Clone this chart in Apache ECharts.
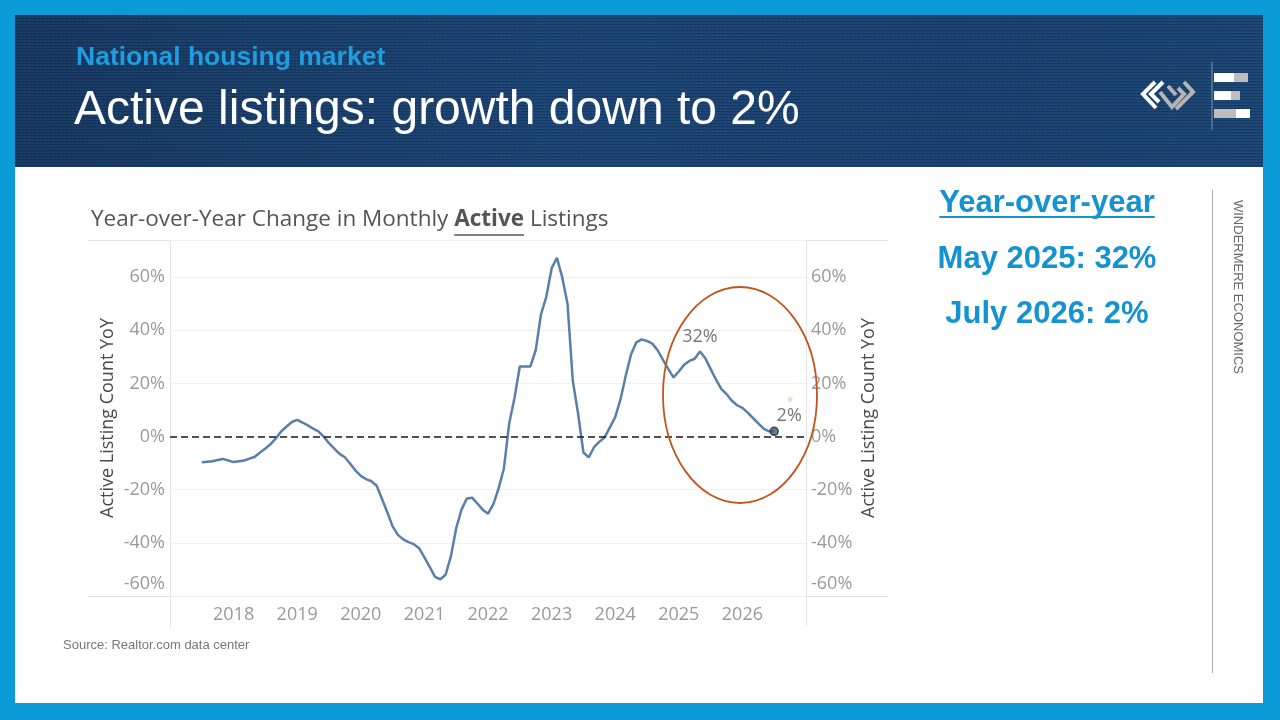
<!DOCTYPE html>
<html><head><meta charset="utf-8">
<script src="https://cdn.jsdelivr.net/npm/echarts@6/dist/echarts.min.js"></script>
<style>html,body{margin:0;padding:0;background:#0b9bd8}#c{width:1280px;height:720px}</style>
</head><body><div id="c"></div>
<script>
// ---- data ----
const startMonth = '2017-07';
const yoy = [
  -9.7, -9.5, -9.3, -8.8, -8.4, -9.0,            // 2017-07..12
  -9.6, -9.3, -9.0, -8.3, -7.6, -6.0, -4.5, -2.8, -0.6, 2.0, 3.8, 5.5,        // 2018
  6.3, 5.3, 4.2, 3.0, 2.0, 0.0, -2.5, -4.5, -6.5, -7.8, -10.2, -12.8,         // 2019
  -14.8, -16.0, -16.8, -18.5, -23.5, -28.5, -33.8, -37.0, -38.7, -39.7, -40.5, -42.0, // 2020
  -45.5, -49.0, -52.8, -53.7, -52.0, -45.0, -34.5, -27.5, -23.3, -23.0, -25.2, -27.5, // 2021
  -29.0, -25.5, -19.5, -12.0, 5.0, 14.5, 26.4, 26.4, 26.4, 32.5, 46.0, 52.6,  // 2022
  63.3, 67.3, 60.0, 50.0, 21.0, 8.6, -6.0, -7.8, -4.0, -2.0, -0.3, 3.5,       // 2023
  7.3, 14.0, 23.0, 31.0, 35.5, 36.6, 36.0, 35.0, 32.5, 29.0, 25.5, 22.3,      // 2024
  24.5, 27.0, 28.5, 29.3, 32.0, 29.5, 25.5, 21.5, 18.0, 16.0, 13.5, 11.8,     // 2025
  10.8, 9.0, 7.0, 5.0, 3.0, 2.0, 2.0                                          // 2026-01..07
];
const yearLabels = ['2018','2019','2020','2021','2022','2023','2024','2025','2026'];
const peakMonth = '2025-05', peakLabel = '32%';
const lastMonth = '2026-07', lastLabel = '2%';
const faintMonth = '2026-10', faintValue = 14;

// category months 2017-01 .. 2027-01
const months = [];
for (let y = 2017; y <= 2027; y++) {
  for (let m = 1; m <= 12; m++) {
    if (y === 2027 && m > 1) break;
    months.push(y + '-' + String(m).padStart(2, '0'));
  }
}
const startIdx = months.indexOf(startMonth);
const lineData = months.map((mo, i) => {
  const k = i - startIdx;
  return (k >= 0 && k < yoy.length) ? yoy[k] : null;
});
const valueAt = mo => lineData[months.indexOf(mo)];

const FONT = '"Open Sans", "Noto Sans", sans-serif';

// measure helper for underlines
const mctx = document.createElement('canvas').getContext('2d');
function tw(text, font) { mctx.font = font; return mctx.measureText(text).width; }

const titleA = 'Year-over-Year Change in Monthly ';
const titleB = 'Active';
const titleFontA = '22.5px "Open Sans"';
const titleFontB = 'bold 22.5px "Open Sans"';
const titleX = 91;
const ulStart = titleX + tw(titleA, titleFontA);
const ulEnd = ulStart + tw(titleB, titleFontB);

const yoyHead = 'Year-over-year';
const yoyHeadW = tw(yoyHead, 'bold 31px "Liberation Sans"');

// header texture pattern
const pc = document.createElement('canvas');
pc.width = 4; pc.height = 3;
const pctx = pc.getContext('2d');
pctx.fillStyle = 'rgba(0,0,0,0.18)'; pctx.fillRect(0, 0, 4, 1);
pctx.fillStyle = 'rgba(255,255,255,0.04)'; pctx.fillRect(0, 2, 2, 1);

const chart = echarts.init(document.getElementById('c'), null, {renderer: 'canvas'});

const labelRich = {lo: {fontSize: 18, color: '#9a9a9a', fontFamily: FONT, padding: [0, 0, 24, 0]}};
const yLabelFmt = v => v === -60 ? '{lo|-60%}' : v + '%';

chart.setOption({
  animation: false,
  backgroundColor: 'transparent',
  grid: {left: 170, right: 474, top: 240, bottom: 124, containLabel: false},
  xAxis: {
    type: 'category', data: months, boundaryGap: false,
    axisLine: {show: false}, axisTick: {show: false}, splitLine: {show: false},
    axisLabel: {
      interval: (i, v) => v.endsWith('-01') && yearLabels.includes(v.slice(0, 4)),
      formatter: v => v.slice(0, 4),
      fontSize: 18, color: '#9a9a9a', fontFamily: FONT, margin: 10
    }
  },
  yAxis: [
    {
      type: 'value', min: -60, max: 74, interval: 20, position: 'left',
      name: 'Active Listing Count YoY', nameLocation: 'middle', nameGap: 53, nameRotate: 90,
      nameTextStyle: {fontSize: 18, color: '#4a4a4a', fontFamily: FONT},
      axisLine: {show: false}, axisTick: {show: false},
      axisLabel: {formatter: yLabelFmt, rich: labelRich, showMaxLabel: false, fontSize: 18, color: '#9a9a9a', fontFamily: FONT, margin: 5},
      splitLine: {lineStyle: {color: '#f1f1f1', width: 1}}
    },
    {
      type: 'value', min: -60, max: 74, interval: 20, position: 'right',
      name: 'Active Listing Count YoY', nameLocation: 'middle', nameGap: 54, nameRotate: 90,
      nameTextStyle: {fontSize: 18, color: '#4a4a4a', fontFamily: FONT},
      axisLine: {show: false}, axisTick: {show: false},
      axisLabel: {formatter: yLabelFmt, rich: labelRich, showMaxLabel: false, fontSize: 18, color: '#9a9a9a', fontFamily: FONT, margin: 5},
      splitLine: {show: false}
    }
  ],
  series: [
    {
      type: 'line', data: lineData, symbol: 'none', connectNulls: false,
      lineStyle: {color: '#5a7fa8', width: 2.5}, z: 3,
      markLine: {
        silent: true, symbol: 'none', label: {show: false},
        lineStyle: {type: [7, 4], color: '#1a1a1a', width: 1.5},
        data: [{yAxis: 0}]
      }
    },
    {
      type: 'scatter', z: 5,
      data: [
        {value: [peakMonth, valueAt(peakMonth)], symbolSize: 0,
         label: {show: true, formatter: peakLabel, position: 'top', distance: 6}},
        {value: [lastMonth, valueAt(lastMonth)], symbol: 'circle', symbolSize: 8,
         itemStyle: {color: '#3d5d7e', borderColor: '#1b2a3a', borderWidth: 1.5},
         label: {show: true, formatter: lastLabel, position: 'top', distance: 2, offset: [15, 0]}}
      ],
      label: {color: '#555', fontSize: 18, fontFamily: FONT}
    },
    {
      type: 'scatter', z: 4, symbol: 'diamond', symbolSize: 6,
      itemStyle: {color: '#dedcb4'},
      data: [[faintMonth, faintValue]]
    }
  ],
  graphic: [
    // white content area
    {type: 'rect', z: -10, shape: {x: 15, y: 15, width: 1248, height: 688}, style: {fill: '#ffffff'}},
    // header
    {type: 'rect', z: -9, shape: {x: 15, y: 15, width: 1248, height: 152},
     style: {fill: new echarts.graphic.LinearGradient(0, 0, 1, 0, [
       {offset: 0, color: '#173a64'}, {offset: 0.45, color: '#1c4677'},
       {offset: 0.75, color: '#1a4272'}, {offset: 1, color: '#1b4675'}])}},
    {type: 'rect', z: -8, shape: {x: 15, y: 15, width: 1248, height: 152},
     style: {fill: {image: pc, repeat: 'repeat'}}},
    {type: 'text', z: 10, left: 76, top: 44,
     style: {text: 'National housing market', font: 'bold 26.5px "Liberation Sans", Arial', fill: '#1e9ddf'}},
    {type: 'text', z: 10, left: 74, top: 87,
     style: {text: 'Active listings: growth down to 2%', font: '48px "Liberation Sans", Arial', fill: '#ffffff'}},
    // logo
    {type: 'polyline', z: 10, shape: {points: [[1155, 82], [1143, 94], [1156, 108]]},
     style: {stroke: '#ffffff', lineWidth: 4, fill: null}},
    {type: 'polyline', z: 10, shape: {points: [[1163, 82], [1151, 94], [1159, 102]]},
     style: {stroke: '#ffffff', lineWidth: 4, fill: null}},
    {type: 'polyline', z: 10, shape: {points: [[1160, 92], [1172, 107], [1184, 94], [1178, 88]]},
     style: {stroke: '#b4b4b4', lineWidth: 4, fill: null}},
    {type: 'polyline', z: 10, shape: {points: [[1168, 86], [1176, 95]]},
     style: {stroke: '#b4b4b4', lineWidth: 4, fill: null}},
    {type: 'polyline', z: 10, shape: {points: [[1184, 82], [1193, 92], [1176, 109]]},
     style: {stroke: '#b4b4b4', lineWidth: 4, fill: null}},
    {type: 'line', z: 10, shape: {x1: 1212, y1: 62, x2: 1212, y2: 130}, style: {stroke: '#7d95b3', lineWidth: 1}},
    {type: 'rect', z: 10, shape: {x: 1214, y: 73, width: 20, height: 9}, style: {fill: '#ffffff'}},
    {type: 'rect', z: 10, shape: {x: 1234, y: 73, width: 14, height: 9}, style: {fill: '#bdbdbd'}},
    {type: 'rect', z: 10, shape: {x: 1214, y: 91, width: 17, height: 9}, style: {fill: '#ffffff'}},
    {type: 'rect', z: 10, shape: {x: 1231, y: 91, width: 9, height: 9}, style: {fill: '#bdbdbd'}},
    {type: 'rect', z: 10, shape: {x: 1214, y: 109, width: 22, height: 9}, style: {fill: '#bdbdbd'}},
    {type: 'rect', z: 10, shape: {x: 1236, y: 109, width: 14, height: 9}, style: {fill: '#ffffff'}},
    // chart frame lines
    {type: 'line', z: -5, shape: {x1: 88, y1: 240.5, x2: 888, y2: 240.5}, style: {stroke: '#e3e3e3', lineWidth: 1}},
    {type: 'line', z: -5, shape: {x1: 88, y1: 596.5, x2: 888, y2: 596.5}, style: {stroke: '#e3e3e3', lineWidth: 1}},
    {type: 'line', z: -5, shape: {x1: 170.5, y1: 240, x2: 170.5, y2: 626}, style: {stroke: '#e3e3e3', lineWidth: 1}},
    {type: 'line', z: -5, shape: {x1: 806.5, y1: 240, x2: 806.5, y2: 626}, style: {stroke: '#e3e3e3', lineWidth: 1}},
    // chart title
    {type: 'text', z: 10, left: titleX, top: 208,
     style: {text: '{a|' + titleA + '}{b|' + titleB + '}{a| Listings}',
       rich: {a: {fontSize: 22.5, fontFamily: '"Open Sans"', fill: '#555555'},
              b: {fontSize: 22.5, fontFamily: '"Open Sans"', fontWeight: 'bold', fill: '#555555'}}}},
    {type: 'line', z: 10, shape: {x1: ulStart, y1: 235, x2: ulEnd, y2: 235}, style: {stroke: '#555555', lineWidth: 1.5}},
    // ellipse annotation
    {type: 'ellipse', z: 6, shape: {cx: 740, cy: 395, rx: 77, ry: 108},
     style: {stroke: '#c0561e', lineWidth: 1.8, fill: null}},
    // right panel
    {type: 'text', z: 10, x: 1047, y: 203,
     style: {text: yoyHead, font: 'bold 31px "Liberation Sans", Arial', fill: '#1592d2', textAlign: 'center', textVerticalAlign: 'middle'}},
    {type: 'line', z: 10, shape: {x1: 1047 - yoyHeadW / 2, y1: 217, x2: 1047 + yoyHeadW / 2, y2: 217}, style: {stroke: '#1592d2', lineWidth: 2}},
    {type: 'text', z: 10, x: 1047, y: 259,
     style: {text: 'May 2025: 32%', font: 'bold 31px "Liberation Sans", Arial', fill: '#1592d2', textAlign: 'center', textVerticalAlign: 'middle'}},
    {type: 'text', z: 10, x: 1047, y: 314,
     style: {text: 'July 2026: 2%', font: 'bold 31px "Liberation Sans", Arial', fill: '#1592d2', textAlign: 'center', textVerticalAlign: 'middle'}},
    {type: 'line', z: 10, shape: {x1: 1212.5, y1: 190, x2: 1212.5, y2: 673}, style: {stroke: '#b0b0b0', lineWidth: 1}},
    {type: 'text', z: 10, x: 1238, y: 287, rotation: -Math.PI / 2,
     style: {text: 'WINDERMERE ECONOMICS', font: '13px "Liberation Sans", Arial', fill: '#666666', textAlign: 'center', textVerticalAlign: 'middle'}},
    // source
    {type: 'text', z: 10, left: 63, top: 639,
     style: {text: 'Source: Realtor.com data center', font: '13px "Liberation Sans", Arial', fill: '#777777'}}
  ]
});
</script>
</body></html>
